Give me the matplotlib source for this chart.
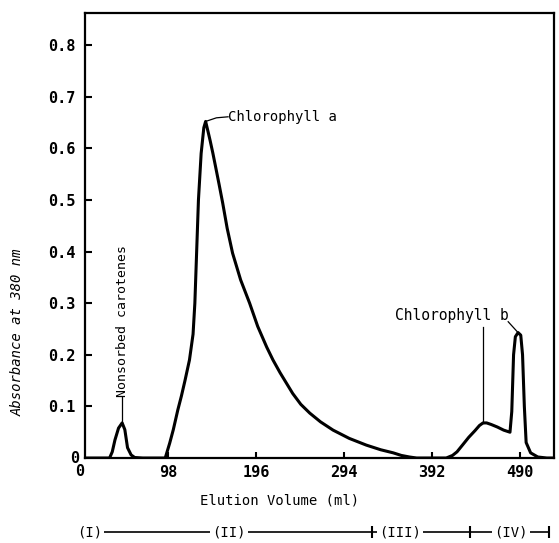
import numpy as np
import matplotlib
matplotlib.use('Agg')
import matplotlib.pyplot as plt
from matplotlib.transforms import blended_transform_factory

# elution profile (ml, absorbance at 380 nm)
volume = [6, 33, 36, 39, 43, 47, 50, 53, 57, 61, 70, 95, 100, 104, 109, 113, 117,
          122, 126, 128, 130, 132, 135, 138, 140, 143, 145, 148, 151, 155, 159,
          164, 170, 179, 189, 198, 208, 215, 223, 230, 237, 246, 256, 268, 282,
          300, 319, 335, 349, 358, 367, 375, 408, 415, 420, 427, 433, 440, 445,
          449, 453, 458, 465, 472, 479, 481, 483, 485, 488, 491, 493, 495, 497,
          502, 510, 520, 528]
absorbance = [0, 0, 0.012, 0.035, 0.058, 0.068, 0.055, 0.02, 0.006, 0.001, 0, 0,
              0.029, 0.055, 0.093, 0.12, 0.15, 0.19, 0.24, 0.30, 0.40, 0.50,
              0.59, 0.64, 0.652, 0.63, 0.615, 0.591, 0.565, 0.53, 0.494,
              0.445, 0.397, 0.345, 0.300, 0.255, 0.215, 0.19, 0.165, 0.145,
              0.125, 0.104, 0.087, 0.07, 0.054, 0.038, 0.025, 0.016, 0.01, 0.005,
              0.002, 0, 0, 0.005, 0.012, 0.027, 0.04, 0.053, 0.063, 0.068, 0.068,
              0.065, 0.06, 0.054, 0.05, 0.09, 0.2, 0.235, 0.243, 0.238, 0.2, 0.1,
              0.03, 0.01, 0.002, 0, 0]

x_ticks = [98, 196, 294, 392, 490]
y_ticks = [0.1, 0.2, 0.3, 0.4, 0.5, 0.6, 0.7, 0.8]

peak_names = ['Nonsorbed carotenes', 'Chlorophyll a', 'Chlorophyll b']
peak_volume = [47, 140, 449, 488]
peak_height = [0.068, 0.652, 0.068, 0.243]

fraction_names = ['(I)', '(II)', '(III)', '(IV)']
fraction_edges = [0, 22, 325, 434, 523]

mono = 'DejaVu Sans Mono'

fig = plt.figure(figsize=(5.59, 5.43), dpi=100)
ax = fig.add_axes([0.152, 0.1565, 0.839, 0.8195])

ax.plot(volume, absorbance, color='black', lw=2.2, solid_joinstyle='round')

ax.set_xlim(5.6, 528)
ax.set_ylim(0, 0.862)
ax.set_xticks(x_ticks)
ax.set_yticks(y_ticks)
ax.set_yticklabels(['%.1f' % v for v in y_ticks])
ax.tick_params(axis='both', direction='in', width=1.5, color='black')
ax.tick_params(axis='y', length=5, pad=7)
ax.tick_params(axis='x', length=4, pad=5)
for lab in ax.get_xticklabels() + ax.get_yticklabels():
    lab.set_fontfamily(mono)
    lab.set_fontsize(11)
    lab.set_fontweight('bold')
for s in ax.spines.values():
    s.set_linewidth(1.6)

# origin labels sit just outside the frame
ax.text(0, -0.012, '0', transform=ax.transData, ha='center', va='top',
        fontfamily=mono, fontsize=11, fontweight='bold', clip_on=False)
ax.text(-0.012, 0, '0', transform=ax.get_yaxis_transform(), ha='right', va='center',
        fontfamily=mono, fontsize=11, fontweight='bold', clip_on=False)

# peak labels
ax.plot([peak_volume[0], peak_volume[0]], [peak_height[0], 0.118], color='black', lw=0.9)
ax.text(peak_volume[0], 0.118, peak_names[0], rotation=90, ha='center', va='bottom',
        fontfamily=mono, fontsize=9.5)

ax.plot([peak_volume[1], 152, 165], [peak_height[1], 0.659, 0.661], color='black', lw=0.9)
ax.text(165, 0.661, peak_names[1], ha='left', va='center', fontfamily=mono, fontsize=10)

ax.plot([peak_volume[2], peak_volume[2]], [peak_height[2], 0.254], color='black', lw=0.9)
ax.plot([477, peak_volume[3]], [0.264, peak_height[3]], color='black', lw=0.9)
ax.text(414, 0.277, peak_names[2], ha='center', va='center', fontfamily=mono, fontsize=10.5)

fig.text(18 / 559, 1 - 332 / 543, 'Absorbance at 380 nm', rotation=90, ha='center',
         va='center', fontfamily=mono, fontsize=10, style='italic')
fig.text(280 / 559, 1 - 500 / 543, 'Elution Volume (ml)', ha='center', va='center',
         fontfamily=mono, fontsize=10)

# fraction bar under the axis
tr = blended_transform_factory(ax.transData, fig.transFigure)
row_y = 1 - 532 / 543
ax.plot([fraction_edges[0], fraction_edges[-1]], [row_y, row_y], color='black', lw=1.2,
        transform=tr, clip_on=False)
ax.plot(fraction_edges[1:], [row_y] * 4, ls='none', marker='|', ms=8, mew=1.5,
        color='black', transform=tr, clip_on=False)
label_x = [11, 166, 357, 480]
for name, lx in zip(fraction_names, label_x):
    ax.text(lx, row_y, name, transform=tr, ha='center', va='center', fontfamily=mono,
            fontsize=10, bbox=dict(facecolor='white', edgecolor='none', pad=1.5),
            clip_on=False)

fig.savefig('out.png', dpi=100)
